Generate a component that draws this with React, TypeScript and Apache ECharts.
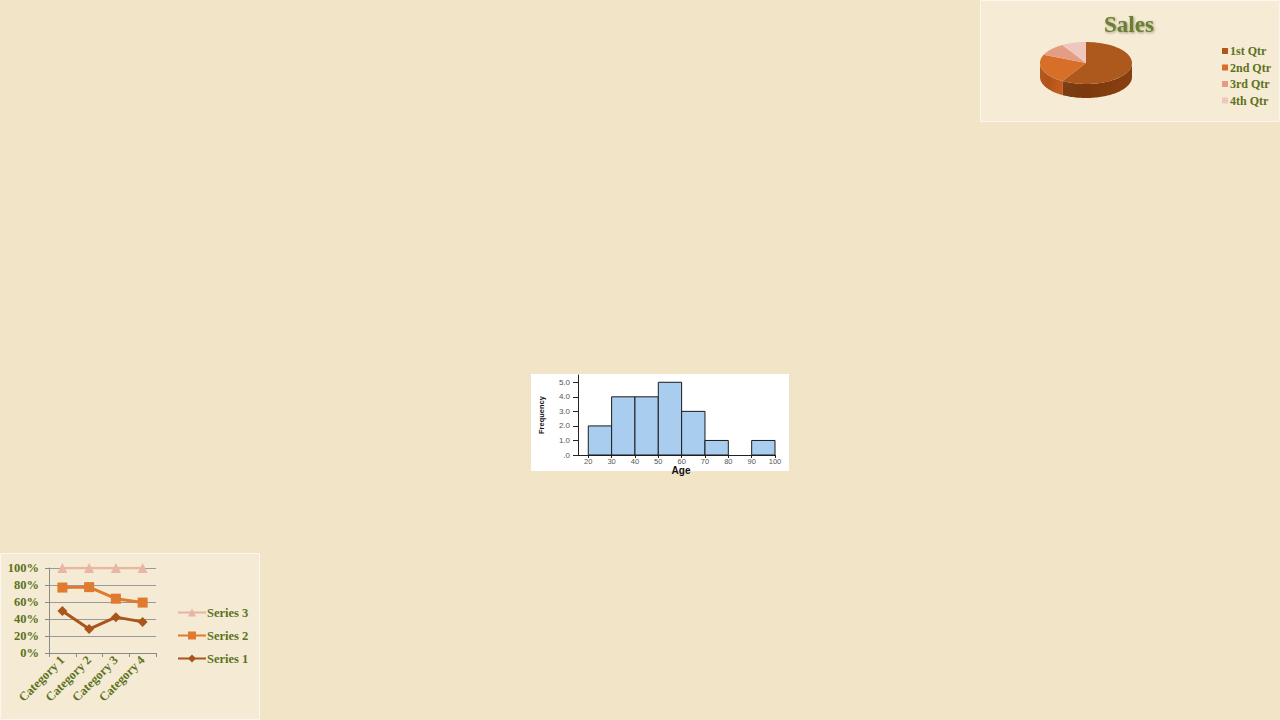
import React, { useEffect, useRef } from "react";
import * as echarts from "echarts";

// ---- Pie (Sales) ----
const pieNames = ["1st Qtr", "2nd Qtr", "3rd Qtr", "4th Qtr"];
const pieValues = [8.2, 3.2, 1.4, 1.2];
const pieTopColors = ["#ad581d", "#d76f28", "#e59c84", "#f0c7bf"];
const pieSideColors = ["#7a390e", "#b0531a", "#bf7b65", "#caa19a"];

// ---- Line chart (100% stacked) ----
const lineCategories = ["Category 1", "Category 2", "Category 3", "Category 4"];
const series1 = [49.4, 28.1, 42.2, 36.6];
const series2 = [77.0, 77.5, 63.9, 59.3];
const series3 = [100, 100, 100, 100];
const lineYTicks = [0, 20, 40, 60, 80, 100];

// ---- Histogram (Age) ----
const binStarts = [20, 30, 40, 50, 60, 70, 80, 90];
const binEnds = [30, 40, 50, 60, 70, 80, 90, 100];
const binFreq = [2, 4, 4, 5, 3, 1, 0, 1];
const histXTicks = [20, 30, 40, 50, 60, 70, 80, 90, 100];
const histYTicks = [0, 1, 2, 3, 4, 5];

const OLIVE = "#5d7222";
const SERIF = "Liberation Serif, Times New Roman, serif";
const SANS = "Liberation Sans, Arial, sans-serif";

export default function App() {
  const ref = useRef<HTMLDivElement>(null);

  useEffect(() => {
    if (!ref.current) return;
    const chart = echarts.init(ref.current, undefined, { renderer: "svg" });

    const total = pieValues.reduce((a, b) => a + b, 0);
    const cumStarts: number[] = [];
    let acc = 0;
    pieValues.forEach((v) => {
      cumStarts.push(acc);
      acc += v;
    });
    const cx = 1086;
    const cy = 63;
    const rx = 46;
    const ry = 21;
    const h = 14;

    const makeSlice = (i: number) => (params: any, api: any) => {
      const v = api.value(0);
      const a1 = (cumStarts[i] / total) * Math.PI * 2;
      const a2 = ((cumStarts[i] + v) / total) * Math.PI * 2;
      const N = 60;
      const top: number[][] = [[cx, cy]];
      for (let k = 0; k <= N; k++) {
        const t = a1 + ((a2 - a1) * k) / N;
        top.push([cx + rx * Math.sin(t), cy - ry * Math.cos(t)]);
      }
      const children: any[] = [];
      const lo = Math.max(a1, Math.PI / 2);
      const hi = Math.min(a2, (Math.PI * 3) / 2);
      if (hi > lo) {
        const upper: number[][] = [];
        const lower: number[][] = [];
        for (let k = 0; k <= N; k++) {
          const t = lo + ((hi - lo) * k) / N;
          const x = cx + rx * Math.sin(t);
          const y = cy - ry * Math.cos(t);
          upper.push([x, y]);
          lower.push([x, y + h]);
        }
        children.push({
          type: "polygon",
          shape: { points: upper.concat(lower.reverse()) },
          style: {
            fill: {
              type: "linear",
              x: 0,
              y: 0,
              x2: 1,
              y2: 0.3,
              colorStops: [
                { offset: 0, color: echarts.color.lift(pieSideColors[i], 0.05) },
                { offset: 0.5, color: pieSideColors[i] },
                { offset: 1, color: echarts.color.lift(pieSideColors[i], -0.12) },
              ],
            },
            stroke: "none",
          },
        });
      }
      children.push({
        type: "polygon",
        shape: { points: top },
        style: { fill: pieTopColors[i], stroke: "none" },
      });
      return { type: "group", children };
    };

    const pieSeries = pieNames.map((name, i) => ({
      type: "custom",
      name,
      coordinateSystem: "none",
      renderItem: makeSlice(i),
      itemStyle: { color: pieTopColors[i] },
      data: [[pieValues[i]]],
      z: 3,
      silent: true,
    }));

    const option: any = {
      animation: false,
      backgroundColor: "#f1e4c7",
      graphic: [
        {
          type: "rect",
          z: -10,
          shape: { x: 980.5, y: 0.5, width: 299, height: 121 },
          style: { fill: "rgba(255,250,238,0.35)", stroke: "#fbf7ef", lineWidth: 1 },
        },
        {
          type: "rect",
          z: -10,
          shape: { x: 0.5, y: 553.5, width: 259, height: 166 },
          style: { fill: "rgba(255,250,238,0.3)", stroke: "#fbf7ef", lineWidth: 1 },
        },
        {
          type: "rect",
          z: -10,
          shape: { x: 531, y: 374, width: 258, height: 97 },
          style: { fill: "#ffffff", stroke: "none" },
        },
        {
          type: "text",
          z: 10,
          x: 1129,
          y: 24,
          style: {
            text: "Sales",
            fontFamily: SERIF,
            fontWeight: "bold",
            fontSize: 23,
            fill: "#6a7f32",
            align: "center",
            verticalAlign: "middle",
            textShadowColor: "rgba(60,50,20,0.45)",
            textShadowOffsetX: 1,
            textShadowOffsetY: 1,
            textShadowBlur: 2,
          },
        },
      ],
      legend: [
        {
          data: pieNames,
          orient: "vertical",
          left: 1217,
          top: 40,
          itemWidth: 6,
          itemHeight: 6,
          itemGap: 4.5,
          icon: "rect",
          selectedMode: false,
          textStyle: { fontFamily: SERIF, fontWeight: "bold", fontSize: 12, color: OLIVE, padding: [0, 0, 0, -3] },
        },
        {
          data: ["Series 3", "Series 2", "Series 1"],
          orient: "vertical",
          left: 172,
          top: 601,
          itemWidth: 28,
          itemHeight: 10,
          itemGap: 10,
          selectedMode: false,
          textStyle: { fontFamily: SERIF, fontWeight: "bold", fontSize: 12.5, color: OLIVE, padding: [0, 0, 0, -4] },
        },
      ],
      grid: [
        { left: 49, top: 568, width: 107, height: 85 },
        { left: 578, top: 375, width: 197, height: 80 },
      ],
      xAxis: [
        {
          type: "category",
          gridIndex: 0,
          data: lineCategories,
          boundaryGap: true,
          axisLine: { show: true, lineStyle: { color: "#8a8a8a", width: 1 } },
          axisTick: { show: true, length: 4, lineStyle: { color: "#8a8a8a" } },
          axisLabel: {
            rotate: 45,
            margin: 5,
            fontFamily: SERIF,
            fontWeight: "bold",
            fontSize: 12.5,
            color: OLIVE,
          },
        },
        {
          type: "value",
          gridIndex: 1,
          min: 15.6,
          max: 100,
          splitLine: { show: false },
          axisLine: { show: true, onZero: false, lineStyle: { color: "#222", width: 1 } },
          axisTick: { show: true, length: 3, customValues: histXTicks, lineStyle: { color: "#222" } },
          axisLabel: {
            customValues: histXTicks,
            margin: 2,
            fontFamily: SANS,
            fontSize: 7.5,
            color: "#555",
          },
          name: "Age",
          nameLocation: "middle",
          nameGap: 10,
          nameMoveOverlap: false,
          nameTextStyle: { fontFamily: SANS, fontWeight: "bold", fontSize: 10, color: "#111", padding: [0, 0, 0, 9] },
        },
      ],
      yAxis: [
        {
          type: "value",
          gridIndex: 0,
          min: 0,
          max: 100,
          interval: 20,
          axisLine: { show: true, lineStyle: { color: "#8a8a8a", width: 1 } },
          axisTick: { show: true, length: 4, lineStyle: { color: "#8a8a8a" } },
          splitLine: { show: true, lineStyle: { color: "#9a9a9a", width: 1 } },
          axisLabel: {
            customValues: lineYTicks,
            formatter: (v: number) => `${v}%`,
            margin: 10,
            fontFamily: SERIF,
            fontWeight: "bold",
            fontSize: 12.5,
            color: OLIVE,
          },
        },
        {
          type: "value",
          gridIndex: 1,
          min: 0,
          max: 5.5,
          splitLine: { show: false },
          axisLine: { show: true, lineStyle: { color: "#222", width: 1 } },
          axisTick: { show: true, length: 5, customValues: histYTicks, lineStyle: { color: "#222" } },
          axisLabel: {
            customValues: histYTicks,
            formatter: (v: number) => (v === 0 ? ".0" : v.toFixed(1)),
            margin: 8,
            fontFamily: SANS,
            fontSize: 8,
            color: "#555",
          },
          name: "Frequency",
          nameLocation: "middle",
          nameRotate: 90,
          nameGap: 33,
          nameMoveOverlap: false,
          nameTextStyle: { fontFamily: SANS, fontWeight: "bold", fontSize: 7.5, color: "#111" },
        },
      ],
      series: [
        ...pieSeries,
        {
          type: "line",
          name: "Series 1",
          xAxisIndex: 0,
          yAxisIndex: 0,
          data: series1,
          symbol: "diamond",
          symbolSize: 10,
          color: "#a9551c",
          lineStyle: { width: 3, color: "#a9551c" },
          itemStyle: { color: "#a9551c" },
          z: 5,
        },
        {
          type: "line",
          name: "Series 2",
          xAxisIndex: 0,
          yAxisIndex: 0,
          data: series2,
          symbol: "rect",
          symbolSize: 10,
          color: "#df7a2e",
          lineStyle: { width: 3, color: "#df7a2e" },
          itemStyle: { color: "#df7a2e" },
          z: 5,
        },
        {
          type: "line",
          name: "Series 3",
          xAxisIndex: 0,
          yAxisIndex: 0,
          data: series3,
          symbol: "triangle",
          symbolSize: 10,
          color: "#e9b5a4",
          lineStyle: { width: 2.5, color: "#e9b5a4" },
          itemStyle: { color: "#e9b5a4" },
          z: 5,
        },
        {
          type: "custom",
          name: "Age histogram",
          xAxisIndex: 1,
          yAxisIndex: 1,
          data: binStarts.map((s, i) => [s, binEnds[i], binFreq[i]]),
          encode: { x: [0, 1], y: 2 },
          renderItem: (params: any, api: any) => {
            const f = api.value(2);
            if (!f) return null;
            const p1 = api.coord([api.value(0), f]);
            const p2 = api.coord([api.value(1), 0]);
            return {
              type: "rect",
              shape: { x: p1[0], y: p1[1], width: p2[0] - p1[0], height: p2[1] - p1[1] },
              style: { fill: "#a9cdef", stroke: "#1b1b1b", lineWidth: 1 },
            };
          },
          z: 3,
          silent: true,
        },
      ],
    };

    chart.setOption(option);
    return () => chart.dispose();
  }, []);

  return (
    <div
      ref={ref}
      style={{ position: "fixed", left: 0, top: 0, width: 1280, height: 720 }}
    />
  );
}
